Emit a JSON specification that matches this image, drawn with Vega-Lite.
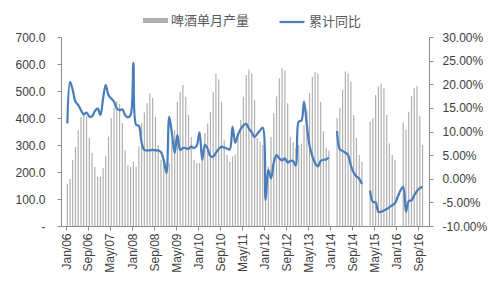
{
  "$schema": "https://vega.github.io/schema/vega-lite/v6.json",
  "width": 368,
  "height": 189,
  "autosize": {"type": "none"},
  "padding": {"left": 61, "top": 37, "right": 62, "bottom": 61},
  "background": "white",
  "config": {
    "view": {"stroke": null},
    "axis": {"grid": false, "domainColor": "#8c8c8c", "tickColor": "#8c8c8c", "labelColor": "#404040", "labelFont": "Liberation Sans", "labelFontSize": 12, "tickSize": 4}
  },
  "data": {"values": [
    {"d":"2006-01-16","p":155,"y":11.7},{"d":"2006-02-15","p":174,"y":20.5},{"d":"2006-03-16","p":244,"y":18.8},{"d":"2006-04-16","p":293,"y":16.3},{"d":"2006-05-16","p":355,"y":15.6},{"d":"2006-06-16","p":404,"y":14.5},{"d":"2006-07-16","p":411,"y":13.6},{"d":"2006-08-16","p":407,"y":14.0},{"d":"2006-09-16","p":326,"y":13.2},{"d":"2006-10-16","p":271,"y":13.2},{"d":"2006-11-16","p":219,"y":14.3},{"d":"2006-12-16","p":182,"y":14.9},
    {"d":"2007-01-16","p":182,"y":13.5},{"d":"2007-02-15","p":214,"y":17.0},{"d":"2007-03-16","p":260,"y":19.8},{"d":"2007-04-16","p":331,"y":17.7},{"d":"2007-05-16","p":400,"y":17.0},{"d":"2007-06-16","p":437,"y":16.3},{"d":"2007-07-16","p":460,"y":14.9},{"d":"2007-08-16","p":452,"y":14.5},{"d":"2007-09-16","p":381,"y":14.7},{"d":"2007-10-16","p":281,"y":13.5},{"d":"2007-11-16","p":226,"y":13.0},{"d":"2007-12-16","p":219,"y":13.5},
    {"d":"2008-01-16","p":238,"y":24.5},{"d":"2008-02-15","p":219,"y":11.4},{"d":"2008-03-16","p":294,"y":11.2},{"d":"2008-04-16","p":381,"y":7.6},{"d":"2008-05-16","p":420,"y":6.1},{"d":"2008-06-16","p":455,"y":6.0},{"d":"2008-07-16","p":492,"y":6.0},{"d":"2008-08-16","p":474,"y":6.1},{"d":"2008-09-16","p":404,"y":6.0},{"d":"2008-10-16","p":300,"y":6.0},{"d":"2008-11-16","p":244,"y":5.6},{"d":"2008-12-16","p":233,"y":4.0},
    {"d":"2009-01-16","p":207,"y":1.2},{"d":"2009-02-15","p":232,"y":13.1},{"d":"2009-03-16","p":312,"y":9.7},{"d":"2009-04-16","p":355,"y":5.5},{"d":"2009-05-16","p":460,"y":9.3},{"d":"2009-06-16","p":497,"y":6.1},{"d":"2009-07-16","p":522,"y":6.5},{"d":"2009-08-16","p":479,"y":6.5},{"d":"2009-09-16","p":411,"y":6.3},{"d":"2009-10-16","p":330,"y":6.8},{"d":"2009-11-16","p":244,"y":6.5},{"d":"2009-12-16","p":233,"y":7.0},
    {"d":"2010-01-16","p":233,"y":9.8},{"d":"2010-02-15","p":252,"y":4.0},{"d":"2010-03-16","p":344,"y":7.2},{"d":"2010-04-16","p":380,"y":6.3},{"d":"2010-05-16","p":423,"y":4.8},{"d":"2010-06-16","p":497,"y":4.7},{"d":"2010-07-16","p":565,"y":5.5},{"d":"2010-08-16","p":543,"y":6.3},{"d":"2010-09-16","p":460,"y":6.8},{"d":"2010-10-16","p":318,"y":6.6},{"d":"2010-11-16","p":263,"y":6.4},{"d":"2010-12-16","p":238,"y":6.2},
    {"d":"2011-01-16","p":257,"y":11.0},{"d":"2011-02-15","p":265,"y":7.6},{"d":"2011-03-16","p":344,"y":9.3},{"d":"2011-04-16","p":392,"y":10.5},{"d":"2011-05-16","p":479,"y":11.3},{"d":"2011-06-16","p":559,"y":11.6},{"d":"2011-07-16","p":580,"y":10.6},{"d":"2011-08-16","p":565,"y":9.8},{"d":"2011-09-16","p":467,"y":8.8},{"d":"2011-10-16","p":326,"y":9.5},{"d":"2011-11-16","p":312,"y":10.2},{"d":"2011-12-16","p":300,"y":10.8},
    {"d":"2012-01-16","p":281,"y":-4.5},{"d":"2012-02-15","p":220,"y":1.9},{"d":"2012-03-16","p":331,"y":0.1},{"d":"2012-04-16","p":418,"y":3.5},{"d":"2012-05-16","p":480,"y":5.0},{"d":"2012-06-16","p":547,"y":4.3},{"d":"2012-07-16","p":585,"y":3.9},{"d":"2012-08-16","p":577,"y":4.3},{"d":"2012-09-16","p":455,"y":3.4},{"d":"2012-10-16","p":331,"y":3.8},{"d":"2012-11-16","p":310,"y":3.7},{"d":"2012-12-16","p":289,"y":2.8},
    {"d":"2013-01-16","p":300,"y":12.1},{"d":"2013-02-15","p":305,"y":12.3},{"d":"2013-03-16","p":374,"y":16.3},{"d":"2013-04-16","p":430,"y":11.4},{"d":"2013-05-16","p":492,"y":7.0},{"d":"2013-06-16","p":553,"y":4.8},{"d":"2013-07-16","p":571,"y":3.3},{"d":"2013-08-16","p":565,"y":2.6},{"d":"2013-09-16","p":460,"y":3.8},{"d":"2013-10-16","p":351,"y":4.0},{"d":"2013-11-16","p":289,"y":4.1},{"d":"2013-12-16","p":280,"y":4.5},
    {"d":"2014-01-16","p":null,"y":null},{"d":"2014-02-15","p":null,"y":null},{"d":"2014-03-16","p":400,"y":10.1},{"d":"2014-04-16","p":437,"y":6.2},{"d":"2014-05-16","p":504,"y":5.9},{"d":"2014-06-16","p":572,"y":5.5},{"d":"2014-07-16","p":565,"y":5.0},{"d":"2014-08-16","p":535,"y":2.8},{"d":"2014-09-16","p":411,"y":1.3},{"d":"2014-10-16","p":326,"y":0.5},{"d":"2014-11-16","p":263,"y":0.0},{"d":"2014-12-16","p":238,"y":-1.1},
    {"d":"2015-01-16","p":null,"y":null},{"d":"2015-02-15","p":null,"y":null},{"d":"2015-03-16","p":386,"y":-2.5},{"d":"2015-04-16","p":400,"y":-4.9},{"d":"2015-05-16","p":485,"y":-5.0},{"d":"2015-06-16","p":517,"y":-7.0},{"d":"2015-07-16","p":527,"y":-7.0},{"d":"2015-08-16","p":510,"y":-6.7},{"d":"2015-09-16","p":411,"y":-6.4},{"d":"2015-10-16","p":306,"y":-6.0},{"d":"2015-11-16","p":263,"y":-5.6},{"d":"2015-12-16","p":244,"y":-5.2},
    {"d":"2016-01-16","p":null,"y":-3.8},{"d":"2016-02-15","p":null,"y":-2.5},{"d":"2016-03-16","p":383,"y":-1.7},{"d":"2016-04-16","p":357,"y":-7.0},{"d":"2016-05-16","p":423,"y":-4.7},{"d":"2016-06-16","p":481,"y":-4.6},{"d":"2016-07-16","p":510,"y":-3.5},{"d":"2016-08-16","p":519,"y":-2.6},{"d":"2016-09-16","p":407,"y":-2.0},{"d":"2016-10-16","p":300,"y":-1.7}
  ]},
  "encoding": {
    "x": {
      "field": "d", "type": "temporal",
      "scale": {"type": "utc", "domain": [{"year": 2006, "month": 1, "date": 1, "utc": true}, {"year": 2016, "month": 11, "date": 1, "utc": true}]},
      "axis": {
        "title": null, "format": "%b/%y", "labelAngle": 270, "labelPadding": 3, "labelFontSize": 12,
        "values": [
          {"year": 2006, "month": 1, "date": 1, "utc": true}, {"year": 2006, "month": 9, "date": 1, "utc": true},
          {"year": 2007, "month": 5, "date": 1, "utc": true}, {"year": 2008, "month": 1, "date": 1, "utc": true},
          {"year": 2008, "month": 9, "date": 1, "utc": true}, {"year": 2009, "month": 5, "date": 1, "utc": true},
          {"year": 2010, "month": 1, "date": 1, "utc": true}, {"year": 2010, "month": 9, "date": 1, "utc": true},
          {"year": 2011, "month": 5, "date": 1, "utc": true}, {"year": 2012, "month": 1, "date": 1, "utc": true},
          {"year": 2012, "month": 9, "date": 1, "utc": true}, {"year": 2013, "month": 5, "date": 1, "utc": true},
          {"year": 2014, "month": 1, "date": 1, "utc": true}, {"year": 2014, "month": 9, "date": 1, "utc": true},
          {"year": 2015, "month": 5, "date": 1, "utc": true}, {"year": 2016, "month": 1, "date": 1, "utc": true},
          {"year": 2016, "month": 9, "date": 1, "utc": true}
        ]
      }
    }
  },
  "layer": [
    {
      "mark": {"type": "bar", "width": 1.2},
      "encoding": {
        "y": {
          "field": "p", "type": "quantitative",
          "scale": {"domain": [0, 700]},
          "axis": {"orient": "left", "title": null, "values": [0, 100, 200, 300, 400, 500, 600, 700], "labelPadding": 12,
                   "labelExpr": "datum.value == 0 ? '-\u2007' : format(datum.value, '.1f')"}
        },
        "fill": {
          "datum": "啤酒单月产量", "type": "nominal",
          "scale": {"range": ["#b0b0b0"]},
          "legend": {"orient": "none", "legendX": 82, "legendY": -29, "title": null,
                     "symbolType": "M-1,-0.2H1V0.2H-1Z", "symbolSize": 625, "symbolStrokeWidth": 0,
                     "labelFont": "Noto Sans CJK SC", "labelFontSize": 13, "labelColor": "#595959", "labelOffset": 3}
        }
      }
    },
    {
      "mark": {"type": "line", "strokeWidth": 2.25, "interpolate": "catmull-rom", "invalid": "break-paths-filter-domains"},
      "encoding": {
        "y": {
          "field": "y", "type": "quantitative",
          "scale": {"domain": [-10, 30]},
          "axis": {"orient": "right", "title": null, "values": [-10, -5, 0, 5, 10, 15, 20, 25, 30], "labelPadding": 9,
                   "labelExpr": "(datum.value < 0 ? '-' : '\u2007') + format(abs(datum.value), '.2f') + '%'"}
        },
        "stroke": {
          "datum": "累计同比", "type": "nominal",
          "scale": {"range": ["#4a7ebb"]},
          "legend": {"orient": "none", "legendX": 217, "legendY": -29, "title": null,
                     "symbolType": "stroke", "symbolSize": 625, "symbolStrokeWidth": 2.25,
                     "labelFont": "Noto Sans CJK SC", "labelFontSize": 13, "labelColor": "#595959", "labelOffset": 3}
        }
      }
    }
  ],
  "resolve": {"scale": {"y": "independent"}}
}
